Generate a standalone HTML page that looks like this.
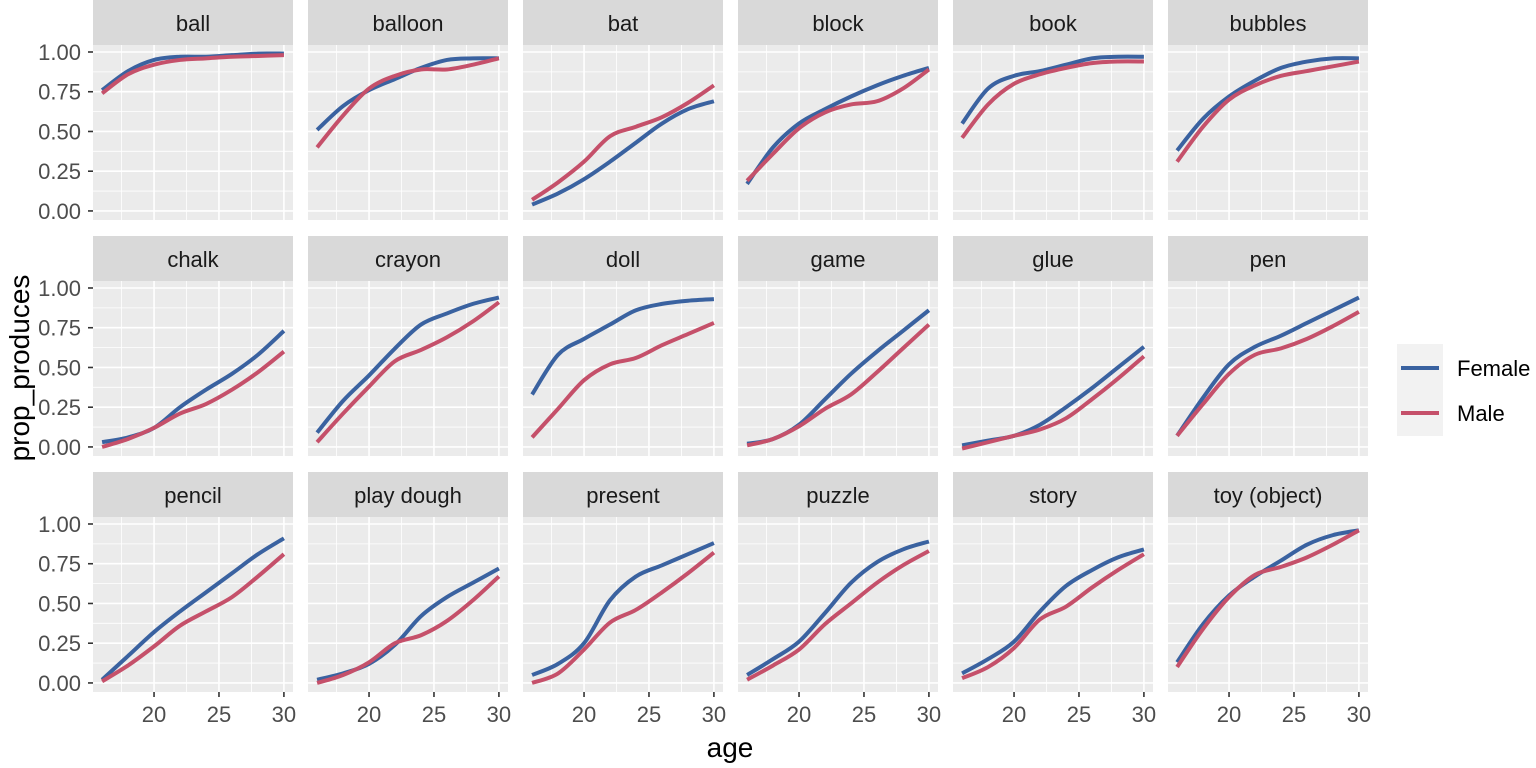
<!DOCTYPE html>
<html><head><meta charset="utf-8">
<style>html,body{margin:0;padding:0;background:#fff;}svg{display:block;font-family:"Liberation Sans",Arial,sans-serif;}</style>
</head><body>
<svg id="chart" width="1536" height="768" viewBox="0 0 1536 768" xmlns="http://www.w3.org/2000/svg"></svg>
<script>
const words=["ball","balloon","bat","block","book","bubbles","chalk","crayon","doll","game","glue","pen","pencil","play dough","present","puzzle","story","toy (object)"];
const ages=[16,18,20,22,24,26,28,30];
const female=[
[.76,.88,.95,.97,.97,.98,.99,.99],
[.51,.66,.76,.83,.90,.95,.96,.96],
[.04,.11,.20,.31,.43,.55,.64,.69],
[.17,.40,.55,.64,.72,.79,.85,.90],
[.55,.77,.85,.88,.92,.96,.97,.97],
[.38,.58,.72,.82,.90,.94,.96,.96],
[.03,.06,.12,.25,.36,.46,.58,.73],
[.09,.29,.45,.62,.77,.84,.90,.94],
[.33,.58,.68,.77,.86,.90,.92,.93],
[.02,.05,.14,.30,.46,.60,.73,.86],
[.01,.04,.07,.14,.25,.37,.50,.63],
[.07,.31,.52,.63,.70,.78,.86,.94],
[.02,.17,.32,.45,.57,.69,.81,.91],
[.02,.06,.12,.24,.42,.54,.63,.72],
[.05,.12,.25,.52,.67,.74,.81,.88],
[.05,.15,.26,.44,.63,.76,.84,.89],
[.06,.15,.26,.45,.61,.71,.79,.84],
[.13,.37,.55,.67,.77,.87,.93,.96]];
const male=[
[.74,.86,.92,.95,.96,.97,.975,.98],
[.40,.60,.77,.85,.89,.89,.92,.96],
[.07,.18,.31,.47,.53,.59,.68,.79],
[.19,.36,.52,.62,.67,.69,.77,.89],
[.46,.67,.80,.86,.90,.93,.94,.94],
[.31,.53,.70,.79,.85,.88,.91,.94],
[.00,.05,.12,.21,.27,.36,.47,.60],
[.03,.21,.38,.54,.61,.69,.79,.91],
[.06,.24,.42,.52,.56,.64,.71,.78],
[.01,.05,.13,.24,.33,.47,.62,.77],
[-.01,.03,.07,.11,.18,.30,.43,.57],
[.07,.27,.46,.58,.62,.68,.76,.85],
[.01,.11,.23,.36,.45,.54,.67,.81],
[.00,.05,.13,.25,.30,.39,.52,.67],
[.00,.06,.21,.38,.46,.57,.69,.82],
[.02,.11,.21,.37,.50,.63,.74,.83],
[.03,.10,.22,.40,.48,.60,.71,.81],
[.10,.34,.54,.68,.73,.79,.87,.96]];
const xTicks=[20,25,30];
const yTicks=[0,0.25,0.5,0.75,1];
const yTickLabels=["0.00","0.25","0.50","0.75","1.00"];

const NS="http://www.w3.org/2000/svg";
const svg=document.getElementById('chart');
function mk(tag,attrs,parent){const e=document.createElementNS(NS,tag);for(const k in attrs)e.setAttribute(k,attrs[k]);(parent||svg).appendChild(e);return e;}
const PW=200,PH=175,STRIP=45,COLSTEP=215,ROWSTEP=236,X0=93;
const XMIN=15.3,XMAX=30.7,YMIN=-0.057,YMAX=1.044;
function sx(c,v){return X0+c*COLSTEP+(v-XMIN)/(XMAX-XMIN)*PW;}
function sy(r,v){const top=r*ROWSTEP+STRIP;return top+(YMAX-v)/(YMAX-YMIN)*PH;}
function pathFor(c,r,ys){
  const pts=ages.map((a,i)=>[sx(c,a),sy(r,ys[i])]);
  let d="M"+pts[0][0].toFixed(2)+","+pts[0][1].toFixed(2);
  for(let i=0;i<pts.length-1;i++){
    const p0=pts[i-1]||pts[i],p1=pts[i],p2=pts[i+1],p3=pts[i+2]||p2;
    const c1=[p1[0]+(p2[0]-p0[0])/6,p1[1]+(p2[1]-p0[1])/6];
    const c2=[p2[0]-(p3[0]-p1[0])/6,p2[1]-(p3[1]-p1[1])/6];
    d+=" C"+c1[0].toFixed(2)+","+c1[1].toFixed(2)+" "+c2[0].toFixed(2)+","+c2[1].toFixed(2)+" "+p2[0].toFixed(2)+","+p2[1].toFixed(2);
  }
  return d;
}
words.forEach((w,i)=>{
  const c=i%6,r=Math.floor(i/6);
  const px=X0+c*COLSTEP,top=r*ROWSTEP;
  const g=mk('g',{});
  
  
  const strip=mk('rect',{x:px,y:top,width:PW,height:STRIP,fill:'#D9D9D9'},g);
  
  
  const st=mk('text',{x:px+PW/2,y:top+31,'text-anchor':'middle','font-size':'22',fill:'#1A1A1A'},g);
  st.textContent=w;
  
  
  const bg=mk('rect',{x:px,y:top+STRIP,width:PW,height:PH,fill:'#EBEBEB'},g);
  
  
  [17.5,22.5,27.5].forEach(v=>mk('line',{x1:sx(c,v),x2:sx(c,v),y1:top+STRIP,y2:top+STRIP+PH,stroke:'#fff','stroke-width':0.8},g));
  [0.125,0.375,0.625,0.875].forEach(v=>mk('line',{x1:px,x2:px+PW,y1:sy(r,v),y2:sy(r,v),stroke:'#fff','stroke-width':0.8},g));
  xTicks.forEach(v=>mk('line',{x1:sx(c,v),x2:sx(c,v),y1:top+STRIP,y2:top+STRIP+PH,stroke:'#fff','stroke-width':1.6},g));
  yTicks.forEach(v=>mk('line',{x1:px,x2:px+PW,y1:sy(r,v),y2:sy(r,v),stroke:'#fff','stroke-width':1.6},g));
  const fl=mk('path',{d:pathFor(c,r,female[i]),fill:'none',stroke:'#3A62A0','stroke-width':4,'stroke-linecap':'butt'},g);
  
  
  const ml=mk('path',{d:pathFor(c,r,male[i]),fill:'none',stroke:'#C5506A','stroke-width':4,'stroke-linecap':'butt'},g);
  
  
  if(c===0){
    yTicks.forEach((v,k)=>{
      mk('line',{x1:px-5,x2:px,y1:sy(r,v),y2:sy(r,v),stroke:'#333','stroke-width':1.6},g);
      const t=mk('text',{x:px-12,y:sy(r,v)+8,'text-anchor':'end','font-size':'22',fill:'#4D4D4D'},g);
      t.textContent=yTickLabels[k];
      
      
    });
  }
  if(r===2){
    xTicks.forEach(v=>{
      mk('line',{x1:sx(c,v),x2:sx(c,v),y1:top+STRIP+PH,y2:top+STRIP+PH+5,stroke:'#333','stroke-width':1.6},g);
      const t=mk('text',{x:sx(c,v),y:top+STRIP+PH+30,'text-anchor':'middle','font-size':'22',fill:'#4D4D4D'},g);
      t.textContent=String(v);
      
      
    });
  }
});
const xt=mk('text',{x:730,y:757,'text-anchor':'middle','font-size':'28',fill:'#000'});
xt.textContent='age';


const yt=mk('text',{x:0,y:0,transform:'translate(29,368) rotate(-90)','text-anchor':'middle','font-size':'28',fill:'#000'});
yt.textContent='prop_produces';


const lg=mk('g',{});


mk('rect',{x:1397,y:344,width:46,height:92,fill:'#F2F2F2'},lg);
[['Female','#3A62A0',368],['Male','#C5506A',413]].forEach(([lab,col,y])=>{
  const ent=mk('g',{},lg);
  
  
  mk('line',{x1:1401,x2:1439,y1:y,y2:y,stroke:col,'stroke-width':4},ent);
  const t=mk('text',{x:1457,y:y+8,'font-size':'22',fill:'#000'},ent);
  t.textContent=lab;
});
</script>
</body></html>
